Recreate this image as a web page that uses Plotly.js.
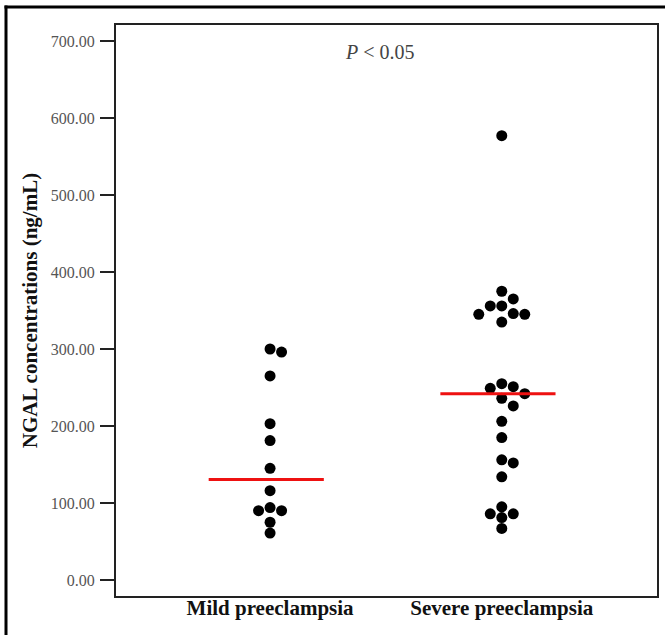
<!DOCTYPE html>
<html>
<head>
<meta charset="utf-8">
<script src="https://cdn.plot.ly/plotly-3.0.1.min.js"></script>
<style>
  html, body { margin: 0; padding: 0; background: #fff; }
  #chart { width: 665px; height: 635px; }
</style>
</head>
<body>
<div id="chart"></div>
<script>
// ---- data ----
const categories = ['Mild preeclampsia', 'Severe preeclampsia'];
const mildValues = [300, 296, 265, 203, 181, 145, 116, 94, 90, 90, 75, 61];
const severeValues = [577, 375, 365, 356, 356, 346, 345, 345, 335, 255, 251, 249, 242, 236, 226, 206, 185, 156, 152, 134, 95, 86, 86, 81, 67];
const yTickVals = [0, 100, 200, 300, 400, 500, 600, 700];
const yTickText = ['0.00', '100.00', '200.00', '300.00', '400.00', '500.00', '600.00', '700.00'];
const annotationText = '<i>P</i> < 0.05';
const yTitle = 'NGAL concentrations (ng/mL)';

// ---- layout geometry ----
const W = 665, H = 635;
const margin = { l: 116, r: 8, t: 25, b: 39 };
const plotW = W - margin.l - margin.r;
const plotH = H - margin.t - margin.b;
const yRange = [-20.8, 720.8];
const xRange = [-0.665, 1.670];
const pxPerY = plotH / (yRange[1] - yRange[0]);
const pxPerX = plotW / (xRange[1] - xRange[0]);
const px2x = p => (p - margin.l) / plotW;
const px2y = p => (H - margin.b - p) / plotH;

function median(arr) {
  const s = arr.slice().sort((a, b) => a - b);
  const n = s.length;
  return n % 2 ? s[(n - 1) / 2] : (s[n / 2 - 1] + s[n / 2]) / 2;
}

// simple beeswarm: dodge points horizontally (in pixels) so markers don't overlap
function swarm(values, step, minDist) {
  const placed = [];
  const offs = [];
  values.forEach(v => {
    const py = v * pxPerY;
    let chosen = 0;
    for (let k = 0; k < 20; k++) {
      const cand = k === 0 ? 0 : (k % 2 ? Math.ceil(k / 2) : -Math.ceil(k / 2)) * step;
      const ok = placed.every(p => Math.hypot(p.x - cand, p.y - py) >= minDist);
      if (ok) { chosen = cand; break; }
    }
    placed.push({ x: chosen, y: py });
    offs.push(chosen / pxPerX);
  });
  return offs;
}

const groups = [mildValues, severeValues];
const traces = [];
groups.forEach((vals, i) => {
  const offs = swarm(vals, 11.5, 10.5);
  traces.push({
    type: 'scatter', mode: 'markers',
    x: vals.map((v, j) => i + offs[j]), y: vals,
    marker: { color: '#000', size: 11, line: { width: 0 } },
    hoverinfo: 'y', showlegend: false, cliponaxis: false
  });
});
groups.forEach((vals, i) => {
  const m = median(vals);
  traces.push({
    type: 'scatter', mode: 'lines',
    x: [i - 0.265, i + 0.232], y: [m, m],
    line: { color: '#ee1111', width: 3 },
    hoverinfo: 'skip', showlegend: false
  });
});

const layout = {
  width: W, height: H,
  margin: margin,
  paper_bgcolor: '#fff', plot_bgcolor: '#fff',
  showlegend: false,
  font: { family: '"Liberation Serif", "Times New Roman", serif', color: '#000' },
  xaxis: {
    range: xRange, tickvals: [0, 1], ticktext: categories,
    showgrid: false, zeroline: false, ticks: '',
    showline: true, linecolor: '#222', linewidth: 2, mirror: true,
    tickfont: { family: '"Liberation Serif", serif', size: 21, color: '#111', weight: 'bold' },
    ticklabelstandoff: -8, automargin: false
  },
  yaxis: {
    range: yRange, tickvals: yTickVals, ticktext: yTickText,
    showgrid: false, zeroline: false,
    ticks: 'outside', ticklen: 14, tickwidth: 2, tickcolor: '#222',
    showline: true, linecolor: '#222', linewidth: 2, mirror: true,
    tickfont: { family: '"Liberation Serif", serif', size: 16, color: '#555' },
    ticklabelstandoff: 2, automargin: false,
    title: { text: '<b>' + yTitle + '</b>', font: { family: '"Liberation Serif", serif', size: 21, color: '#111' }, standoff: 7 }
  },
  annotations: [{
    xref: 'paper', yref: 'paper',
    x: px2x(380), y: px2y(52),
    xanchor: 'center', yanchor: 'middle',
    text: annotationText, showarrow: false,
    font: { family: '"Liberation Serif", serif', size: 20, color: '#444' }
  }],
  shapes: [
    { type: 'line', xref: 'paper', yref: 'paper', layer: 'above',
      x0: px2x(4.5), x1: px2x(670), y0: px2y(7), y1: px2y(7),
      line: { color: '#000', width: 3 } },
    { type: 'line', xref: 'paper', yref: 'paper', layer: 'above',
      x0: px2x(6), x1: px2x(6), y0: px2y(5.5), y1: px2y(640),
      line: { color: '#000', width: 3 } }
  ]
};

Plotly.newPlot('chart', traces, layout, { displayModeBar: false, staticPlot: true });
</script>
</body>
</html>
